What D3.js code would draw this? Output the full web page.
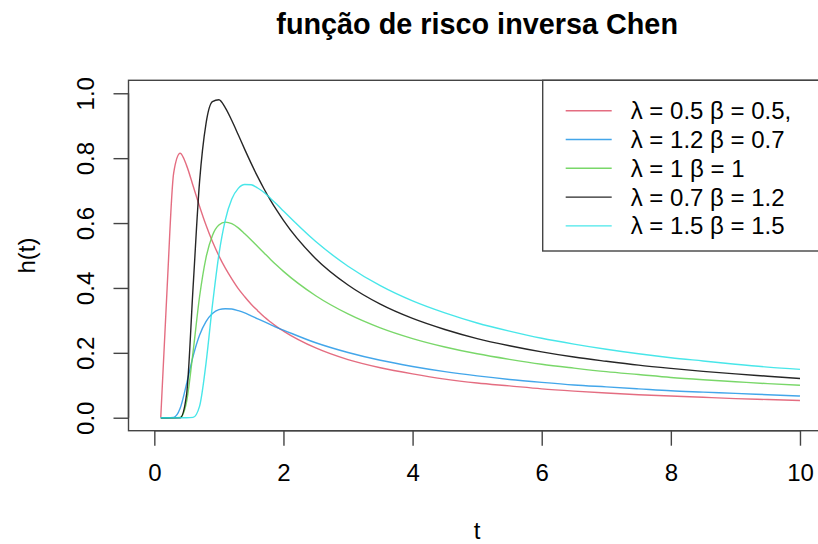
<!DOCTYPE html>
<html>
<head>
<meta charset="utf-8">
<title>função de risco inversa Chen</title>
<script src="https://cdn.jsdelivr.net/npm/d3@7"></script>
<style>
    body { margin: 0; background: #fff; }
    #chart { width: 818px; height: 544px; }
    text { font-family: "Liberation Sans", Arial, sans-serif; fill: #000; }
</style>
</head>
<body>
<div id="chart"></div>
<script>
// Hazard values
const tValues = [0.1, 0.2, 0.3, 0.4, 0.5, 0.6, 0.7, 0.8, 0.9, 1.0,
    1.1, 1.2, 1.3, 1.4, 1.5, 1.6, 1.7, 1.8, 1.9, 2.0,
    2.5, 3, 3.5, 4, 4.5, 5, 5.5, 6, 6.5, 7, 7.5, 8, 8.5, 9, 9.5, 10];

const hRed = [0.002, 0.407, 0.755, 0.815, 0.777, 0.715, 0.652, 0.594, 0.543, 0.499,
    0.461, 0.428, 0.398, 0.373, 0.350, 0.330, 0.311, 0.295, 0.280, 0.267,
    0.215, 0.179, 0.154, 0.135, 0.119, 0.107, 0.098, 0.089, 0.082, 0.076, 0.071, 0.067, 0.063, 0.059, 0.056, 0.053];
const hBlue = [0, 0, 0.001, 0.029, 0.105, 0.189, 0.254, 0.296, 0.321, 0.333,
    0.336, 0.335, 0.330, 0.323, 0.314, 0.305, 0.296, 0.287, 0.278, 0.270,
    0.231, 0.201, 0.177, 0.158, 0.142, 0.129, 0.118, 0.109, 0.101, 0.095, 0.089, 0.083, 0.079, 0.075, 0.071, 0.067];
const hGreen = [0, 0, 0, 0.001, 0.050, 0.203, 0.372, 0.493, 0.562, 0.594,
    0.603, 0.598, 0.585, 0.567, 0.548, 0.528, 0.508, 0.488, 0.469, 0.451,
    0.376, 0.320, 0.277, 0.244, 0.218, 0.197, 0.180, 0.165, 0.153, 0.142, 0.133, 0.124, 0.117, 0.111, 0.105, 0.100];
const hBlack = [0, 0, 0, 0, 0.073, 0.401, 0.726, 0.906, 0.974, 0.980,
    0.955, 0.916, 0.872, 0.827, 0.784, 0.743, 0.705, 0.670, 0.638, 0.608,
    0.490, 0.409, 0.350, 0.306, 0.272, 0.244, 0.222, 0.203, 0.187, 0.174, 0.162, 0.152, 0.143, 0.135, 0.128, 0.121];
const hCyan = [0, 0, 0, 0, 0, 0.001, 0.035, 0.167, 0.347, 0.503,
    0.610, 0.674, 0.707, 0.719, 0.718, 0.708, 0.694, 0.676, 0.657, 0.637,
    0.543, 0.467, 0.407, 0.360, 0.323, 0.292, 0.267, 0.245, 0.227, 0.211, 0.197, 0.185, 0.175, 0.165, 0.156, 0.149];

const seriesLabels = ['λ = 0.5 β = 0.5,', 'λ = 1.2 β = 0.7', 'λ = 1 β = 1', 'λ = 0.7 β = 1.2', 'λ = 1.5 β = 1.5'];
const seriesColors = ['#DF536B', '#2297E6', '#61D04F', '#000000', '#28E2E5'];
const seriesValues = [hRed, hBlue, hGreen, hBlack, hCyan];

const xTicks = [0, 2, 4, 6, 8, 10];
const yTicks = [0, 0.2, 0.4, 0.6, 0.8, 1.0];

const width = 818;
const height = 544;
// plot region (R extends the data range by 4% on each side)
const plot = { left: 128.5, right: 825.8, top: 80.3, bottom: 430.7 };
const axisColor = '#444';

const svg = d3.select('#chart')
    .append('svg')
    .attr('width', width)
    .attr('height', height);

svg.append('rect')
    .attr('width', width)
    .attr('height', height)
    .attr('fill', '#fff');

const x = d3.scaleLinear().domain([-0.4, 10.4]).range([plot.left, plot.right]);
const y = d3.scaleLinear().domain([-0.04, 1.04]).range([plot.bottom, plot.top]);

// Clip curves to the plot box
svg.append('clipPath')
    .attr('id', 'plot-clip')
    .append('rect')
    .attr('x', plot.left)
    .attr('y', plot.top)
    .attr('width', plot.right - plot.left)
    .attr('height', plot.bottom - plot.top);

const line = d3.line()
    .x((d, i) => x(tValues[i]))
    .y(d => y(d))
    .curve(d3.curveMonotoneX);

const curves = svg.append('g').attr('clip-path', 'url(#plot-clip)');
seriesValues.forEach((vals, i) => {
    curves.append('path')
        .datum(vals)
        .attr('d', line)
        .attr('fill', 'none')
        .attr('stroke', seriesColors[i])
        .attr('stroke-opacity', 0.85)
        .attr('stroke-width', 1.4)
        .attr('stroke-linejoin', 'round');
});

// Plot box
svg.append('rect')
    .attr('x', plot.left)
    .attr('y', plot.top)
    .attr('width', plot.right - plot.left)
    .attr('height', plot.bottom - plot.top)
    .attr('fill', 'none')
    .attr('stroke', axisColor)
    .attr('stroke-width', 1.4);

// X axis
const xAxis = svg.append('g')
    .attr('transform', `translate(0,${plot.bottom})`)
    .call(d3.axisBottom(x).tickValues(xTicks).tickSize(15).tickPadding(0).tickFormat(d3.format('d')));
xAxis.select('.domain')
    .attr('d', `M${x(0)},0H${x(10)}`)
    .attr('stroke', axisColor)
    .attr('stroke-width', 1.4);
xAxis.selectAll('.tick line').attr('stroke', axisColor).attr('stroke-width', 1.4);
xAxis.selectAll('.tick text')
    .attr('y', 50)
    .attr('dy', null)
    .style('font-size', '24px')
    .style('font-family', '"Liberation Sans", Arial, sans-serif')
    .attr('fill', '#000');

// Y axis
const yAxis = svg.append('g')
    .attr('transform', `translate(${plot.left},0)`)
    .call(d3.axisLeft(y).tickValues(yTicks).tickSize(15).tickFormat(d3.format('.1f')));
yAxis.select('.domain')
    .attr('d', `M0,${y(0)}V${y(1)}`)
    .attr('stroke', axisColor)
    .attr('stroke-width', 1.4);
yAxis.selectAll('.tick line').attr('stroke', axisColor).attr('stroke-width', 1.4);
yAxis.selectAll('.tick text')
    .attr('x', null)
    .attr('dy', null)
    .attr('text-anchor', 'middle')
    .attr('transform', 'translate(-35,0) rotate(-90)')
    .style('font-size', '24px')
    .style('font-family', '"Liberation Sans", Arial, sans-serif')
    .attr('fill', '#000');

// Title and axis labels
const midX = (plot.left + plot.right) / 2;
svg.append('text')
    .attr('x', midX)
    .attr('y', 34)
    .attr('text-anchor', 'middle')
    .style('font-size', '28.8px')
    .style('font-weight', 'bold')
    .text('função de risco inversa Chen');

svg.append('text')
    .attr('x', midX)
    .attr('y', 539)
    .attr('text-anchor', 'middle')
    .style('font-size', '24px')
    .text('t');

svg.append('text')
    .attr('transform', `translate(35,${(plot.top + plot.bottom) / 2}) rotate(-90)`)
    .attr('text-anchor', 'middle')
    .style('font-size', '24px')
    .text('h(t)');

// Legend (top right, inside the plot box)
const legend = svg.append('g');
const legendTop = plot.top;
const rowStart = 110.7;
const rowStep = 28.8;
legend.append('rect')
    .attr('x', 542.7)
    .attr('y', legendTop)
    .attr('width', plot.right - 542.7)
    .attr('height', 251 - legendTop)
    .attr('fill', '#fff')
    .attr('stroke', axisColor)
    .attr('stroke-width', 1.4);

seriesLabels.forEach((label, i) => {
    const ry = rowStart + i * rowStep;
    legend.append('line')
        .attr('x1', 565.7)
        .attr('x2', 611.7)
        .attr('y1', ry)
        .attr('y2', ry)
        .attr('stroke', seriesColors[i])
        .attr('stroke-opacity', 0.85)
        .attr('stroke-width', 1.4);
    legend.append('text')
        .attr('x', 630.7)
        .attr('y', ry)
        .attr('dy', '0.35em')
        .style('font-size', '24px')
        .text(label);
});
</script>
</body>
</html>
